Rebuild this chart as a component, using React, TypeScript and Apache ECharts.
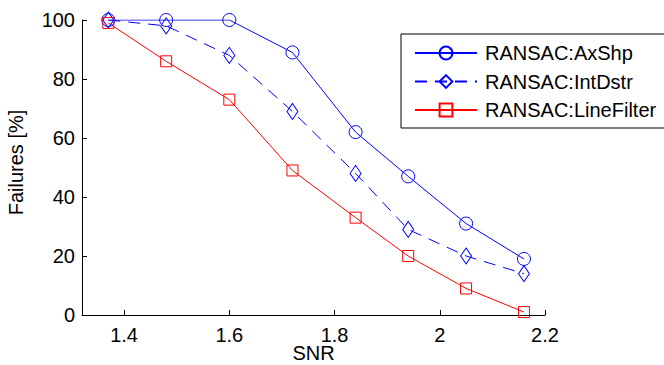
import React, { useEffect, useRef } from "react";
import * as echarts from "echarts";

const snr = [1.37, 1.48, 1.6, 1.72, 1.84, 1.94, 2.05, 2.16];
const axShp = [100, 100, 100, 89, 62, 47, 31, 19];
const intDstr = [100, 98, 88, 69, 48, 29, 20, 14];
const lineFilter = [99, 86, 73, 49, 33, 20, 9, 1];
const xTicks = [1.4, 1.6, 1.8, 2, 2.2];
const seriesNames = ["RANSAC:AxShp", "RANSAC:IntDstr", "RANSAC:LineFilter"];

const FONT = "'Liberation Sans', Arial, Helvetica, sans-serif";

const pairs = (ys: number[]) => snr.map((x, i) => [x, ys[i]]);

export default function App() {
  const ref = useRef<HTMLDivElement>(null);
  useEffect(() => {
    if (!ref.current) return;
    const chart = echarts.init(ref.current, null, { renderer: "svg" });
    const mk = (name: string, ys: number[], color: string, symbol: string, size: any, type: any) => ({
      name,
      type: "line",
      data: pairs(ys),
      symbol,
      symbolSize: size,
      showAllSymbol: true,
      lineStyle: { color, width: 1, type },
      itemStyle: { color: "transparent", borderColor: color, borderWidth: 1 },
      emphasis: { disabled: true },
    });
    chart.setOption({
      animation: false,
      textStyle: { fontFamily: FONT },
      grid: { left: 82, top: 20, right: 119, bottom: 50, containLabel: false, outerBoundsMode: "none" },
      legend: {
        orient: "vertical",
        left: 401,
        top: 34,
        padding: [9, 12, 8, 13],
        itemWidth: 62,
        itemHeight: 16,
        itemGap: 8.5,
        borderColor: "#000",
        borderWidth: 1,
        backgroundColor: "#fff",
        textStyle: { fontSize: 20, color: "#000", fontFamily: FONT, lineHeight: 20, padding: [0, 0, 0, 3] },
        data: seriesNames,
      },
      xAxis: {
        type: "value",
        min: 1.32,
        max: 2.2,
        name: "SNR",
        nameLocation: "middle",
        nameGap: 30,
        nameMoveOverlap: false,
        nameTextStyle: { fontSize: 20, color: "#000", fontFamily: FONT, lineHeight: 16 },
        axisLine: { show: true, lineStyle: { color: "#000", width: 1 } },
        axisTick: { show: true, inside: true, length: 5, customValues: xTicks, lineStyle: { color: "#000" } },
        axisLabel: { fontSize: 20, color: "#000", margin: 12, lineHeight: 16, fontFamily: FONT, customValues: xTicks },
        splitLine: { show: false },
      },
      yAxis: {
        type: "value",
        min: 0,
        max: 100,
        interval: 20,
        name: "Failures [%]",
        nameLocation: "middle",
        nameGap: 56,
        nameMoveOverlap: false,
        nameTextStyle: { fontSize: 20, color: "#000", fontFamily: FONT, padding: [0, 0, 0, 10] },
        axisLine: { show: true, lineStyle: { color: "#000", width: 1 } },
        axisTick: { show: true, inside: true, length: 5, lineStyle: { color: "#000" } },
        axisLabel: { fontSize: 20, color: "#000", margin: 7, fontFamily: FONT },
        splitLine: { show: false },
      },
      series: [
        mk(seriesNames[0], axShp, "#0000ff", "circle", 13, "solid"),
        mk(seriesNames[1], intDstr, "#0000ff", "diamond", [11, 16], [12, 8]),
        mk(seriesNames[2], lineFilter, "#ff0000", "rect", 11, "solid"),
      ],
    });
    return () => chart.dispose();
  }, []);
  return (
    <div
      ref={ref}
      style={{ position: "fixed", left: 0, top: 0, width: 664, height: 365, background: "#fff" }}
    />
  );
}
